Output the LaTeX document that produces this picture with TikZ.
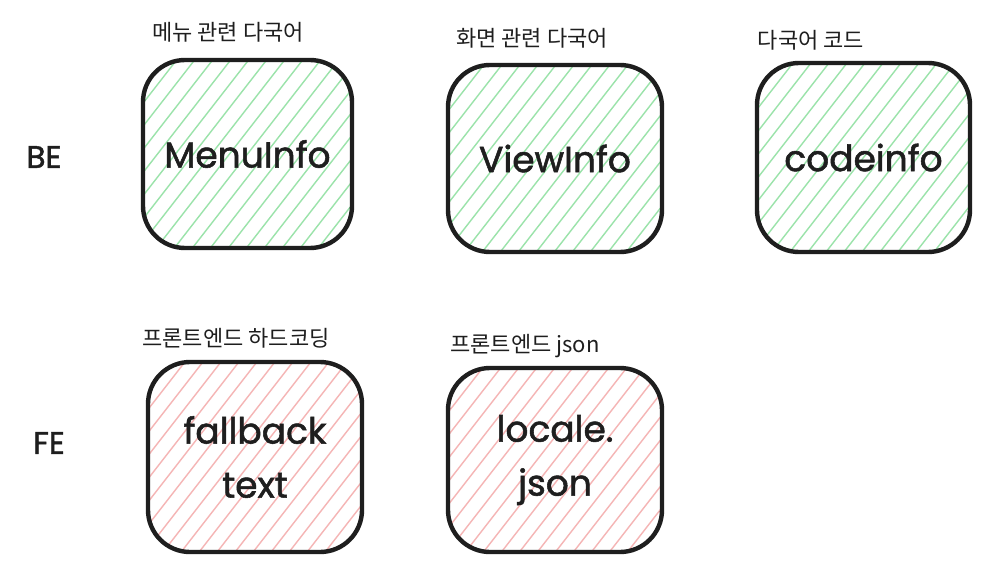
\documentclass[tikz,border=0pt]{standalone}
\usepackage{fontspec}
\setmainfont{Poppins}
\newfontfamily\hand[FakeBold=1.5]{Poppins}
\newfontfamily\kr{Noto Sans CJK KR}
\definecolor{hgreen}{HTML}{9BE3AA}
\definecolor{hred}{HTML}{F5B5B5}
\definecolor{ink}{HTML}{1E1E1E}
\tikzset{
  hatchfill/.style={path picture={
    \foreach \k in {-25,...,25}{
      \draw[#1,line width=1.4pt]
        ([xshift=\k*18pt]path picture bounding box.center) ++(-140pt,-180pt) -- ++(280pt,360pt);
    }}},
  box/.style={draw=ink,line width=4.4pt,rounded corners=42pt,align=center,
    font=\hand\fontsize{36}{54}\selectfont,text=ink,inner sep=0pt},
  label/.style={font=\kr\fontsize{22}{24}\selectfont,text=ink,inner sep=0pt},
  side/.style={font=\hand\fontsize{31}{34}\selectfont,text=ink,inner sep=0pt}
}
\begin{document}
\begin{tikzpicture}[x=1pt,y=-1pt]
\useasboundingbox (0,0) rectangle (988,578);
\fill[white] (0,0) rectangle (988,578);
\node[box,hatchfill=hgreen,minimum width=209pt,minimum height=188pt] (menu) at (247.5,154) {MenuInfo};
\node[box,hatchfill=hgreen,minimum width=214pt,minimum height=187pt] (view) at (555,158.5) {ViewInfo};
\node[box,hatchfill=hgreen,minimum width=213pt,minimum height=189pt] (code) at (863.5,157.5) {codeinfo};
\node[box,hatchfill=hred,minimum width=214pt,minimum height=190pt] (fallback) at (255,457) {fallback\\text};
\node[box,hatchfill=hred,minimum width=214pt,minimum height=184pt] (locale) at (555,460) {locale.\\json};
\node[label] (l1) at (228,32) {메뉴 관련 다국어};
\node[label] (l2) at (532,38) {화면 관련 다국어};
\node[label] (l3) at (811,40) {다국어 코드};
\node[label] (l4) at (236,338) {프론트엔드 하드코딩};
\node[label] (l5) at (525,346) {프론트엔드 json};
\node[side] (be) at (44,157) {BE};
\node[side] (fe) at (49,443) {FE};
\end{tikzpicture}
\end{document}
